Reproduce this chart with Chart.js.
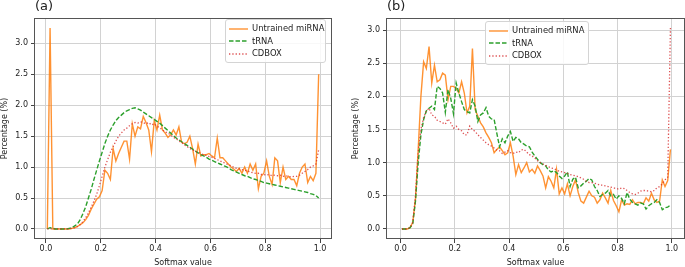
<!DOCTYPE html>
<html>
<head>
<meta charset="utf-8">
<script src="https://cdn.jsdelivr.net/npm/chart.js@4.4.1/dist/chart.umd.min.js"></script>
<style>
body { margin: 0; width: 685px; height: 267px; background: #fff; overflow: hidden; font-family: "DejaVu Sans", sans-serif; }
.panel { position: absolute; top: 0; height: 267px; }
.tag { position: absolute; top: -2px; font-size: 13px; line-height: 16px; color: #222; }
.legend { position: absolute; background: rgba(255,255,255,0.85); border: 1px solid #d4d4d4; border-radius: 3px; font-size: 8.4px; color: #222; padding: 2px 0; }
.legend div { height: 12.5px; line-height: 12.5px; white-space: nowrap; }
.legend svg { vertical-align: middle; margin: 0 4px 0 3px; }
</style>
</head>
<body>
<div class="panel" style="left:0;width:342px"><canvas id="chartA" width="342" height="267"></canvas></div>
<div class="panel" style="left:342px;width:343px"><canvas id="chartB" width="343" height="267"></canvas></div>
<div class="tag" style="left:35px">(a)</div>
<div class="tag" style="left:387px">(b)</div>
<div class="legend" id="legendA" style="left:225px;top:19px;width:99px"></div>
<div class="legend" id="legendB" style="left:485px;top:21px;width:102px"></div>
<script>
// bin centres of the softmax histogram
var bins = [0.005,0.015,0.025,0.035,0.045,0.055,0.065,0.075,0.085,0.095,
    0.105,0.115,0.125,0.135,0.145,0.155,0.165,0.175,0.185,0.195,
    0.205,0.215,0.225,0.235,0.245,0.255,0.265,0.275,0.285,0.295,
    0.305,0.315,0.325,0.335,0.345,0.355,0.365,0.375,0.385,0.395,
    0.405,0.415,0.425,0.435,0.445,0.455,0.465,0.475,0.485,0.495,
    0.505,0.515,0.525,0.535,0.545,0.555,0.565,0.575,0.585,0.595,
    0.605,0.615,0.625,0.635,0.645,0.655,0.665,0.675,0.685,0.695,
    0.705,0.715,0.725,0.735,0.745,0.755,0.765,0.775,0.785,0.795,
    0.805,0.815,0.825,0.835,0.845,0.855,0.865,0.875,0.885,0.895,
    0.905,0.915,0.925,0.935,0.945,0.955,0.965,0.975,0.985,0.995];

var seriesNames = ["Untrained miRNA", "tRNA", "CDBOX"];

// panel (a)
var miRNA_a = [0,3.25,0,0,0,0,0,0,0,0.01,
    0.02,0.04,0.07,0.1,0.15,0.22,0.32,0.4,0.48,0.52,
    0.62,0.95,0.9,0.8,1.3,1.1,1.22,1.32,1.42,1.42,
    1.13,1.7,1.5,1.65,1.62,1.82,1.72,1.6,1.25,1.75,
    1.6,1.84,1.6,1.55,1.48,1.52,1.6,1.52,1.65,1.4,
    1.38,1.4,1.5,1.3,1.05,1.37,1.18,1.2,1.2,1.22,
    1.18,1.15,1.47,1.15,1.15,1.1,1.05,1.0,0.97,0.93,
    0.98,0.9,1.0,0.9,1.05,0.95,1.05,0.65,0.85,0.9,
    1.1,0.85,0.72,1.15,1.1,0.75,1.0,0.8,0.85,0.8,
    0.8,0.7,0.9,1.0,1.05,0.75,0.85,0.78,0.9,2.5];
var tRNA_a = [0,0.02,0.01,0,0,0,0,0,0.01,0.02,
    0.05,0.08,0.15,0.25,0.36,0.5,0.64,0.8,0.95,1.1,
    1.24,1.38,1.5,1.6,1.68,1.75,1.8,1.84,1.88,1.91,
    1.93,1.95,1.96,1.94,1.92,1.89,1.86,1.83,1.8,1.77,
    1.74,1.71,1.67,1.63,1.59,1.55,1.51,1.47,1.44,1.41,
    1.38,1.35,1.32,1.29,1.26,1.23,1.2,1.18,1.16,1.13,
    1.11,1.09,1.07,1.05,1.03,1.01,0.99,0.96,0.94,0.92,
    0.9,0.88,0.86,0.85,0.83,0.81,0.8,0.78,0.77,0.75,
    0.74,0.73,0.72,0.71,0.7,0.69,0.68,0.67,0.66,0.65,
    0.64,0.63,0.62,0.61,0.6,0.59,0.57,0.56,0.54,0.5];
var cdbox_a = [0,0,0,0,0,0,0,0,0,0.01,
    0.02,0.04,0.07,0.12,0.18,0.26,0.35,0.45,0.56,0.7,
    0.85,1.0,1.12,1.24,1.33,1.42,1.5,1.55,1.6,1.63,
    1.67,1.7,1.72,1.71,1.73,1.72,1.7,1.72,1.68,1.7,
    1.66,1.64,1.6,1.57,1.55,1.52,1.48,1.46,1.42,1.4,
    1.36,1.33,1.3,1.28,1.25,1.24,1.22,1.2,1.19,1.17,
    1.16,1.14,1.12,1.1,1.08,1.06,1.04,1.02,1.0,0.98,
    0.97,0.96,0.95,0.94,0.92,0.91,0.9,0.9,0.88,0.88,
    0.87,0.88,0.86,0.87,0.86,0.87,0.85,0.86,0.85,0.84,
    0.85,0.85,0.87,0.9,0.93,0.96,1.0,1.02,1.05,1.28];

// panel (b)
var miRNA_b = [0,0,0,0.02,0.1,0.45,1.2,2.0,2.52,2.42,
    2.75,2.2,2.47,2.22,2.25,2.35,2.32,1.95,2.15,2.15,
    2.12,2.05,2.22,2.05,1.75,1.85,2.72,1.8,1.7,1.6,
    1.54,1.45,1.38,1.3,1.15,1.2,1.24,1.18,1.12,1.15,
    1.3,1.1,0.82,0.97,0.85,0.92,1.0,0.86,0.9,0.84,
    0.95,0.88,0.8,0.62,0.79,0.72,0.62,0.9,0.53,0.62,
    0.53,0.68,0.5,0.64,0.74,0.55,0.42,0.39,0.48,0.57,
    0.5,0.48,0.39,0.44,0.54,0.47,0.39,0.58,0.43,0.35,
    0.26,0.44,0.36,0.38,0.37,0.44,0.38,0.4,0.4,0.38,
    0.47,0.42,0.54,0.44,0.4,0.42,0.74,0.64,0.73,1.2];
var tRNA_b = [0,0,0,0.02,0.08,0.42,1.0,1.42,1.65,1.78,
    1.82,1.85,1.8,2.15,2.12,2.05,1.76,2.1,1.97,1.74,
    2.2,2.05,1.92,1.8,1.77,1.75,1.95,1.85,1.62,1.72,
    1.75,1.83,1.7,1.66,1.65,1.44,1.24,1.36,1.3,1.4,
    1.47,1.32,1.38,1.36,1.3,1.28,1.25,1.24,1.16,1.1,
    1.05,1.0,0.97,0.95,0.89,0.86,0.88,0.85,0.8,0.76,
    0.8,0.86,0.64,0.75,0.78,0.62,0.65,0.69,0.72,0.76,
    0.74,0.64,0.58,0.49,0.52,0.54,0.58,0.5,0.52,0.45,
    0.5,0.46,0.38,0.55,0.45,0.4,0.38,0.36,0.39,0.38,
    0.3,0.35,0.38,0.4,0.44,0.4,0.29,0.32,0.33,0.36];
var cdbox_b = [0,0,0,0.02,0.1,0.5,1.15,1.5,1.68,1.78,
    1.82,1.72,1.7,1.64,1.62,1.6,1.58,1.66,1.6,1.52,
    1.55,1.5,1.48,1.42,1.42,1.55,1.5,1.47,1.42,1.38,
    1.34,1.3,1.27,1.25,1.22,1.19,1.18,1.14,1.16,1.18,
    1.15,1.14,1.16,1.15,1.19,1.2,1.16,1.12,1.1,1.07,
    1.03,1.0,0.98,0.96,0.94,0.92,0.91,0.89,0.87,0.86,
    0.85,0.84,0.82,0.81,0.8,0.79,0.77,0.75,0.72,0.7,
    0.7,0.69,0.68,0.66,0.66,0.65,0.64,0.63,0.62,0.61,
    0.6,0.62,0.61,0.58,0.55,0.53,0.52,0.54,0.57,0.58,
    0.58,0.57,0.56,0.58,0.62,0.64,0.68,0.74,0.78,3.03];

var xTicks = [0, 0.2, 0.4, 0.6, 0.8, 1.0];
var yTicks = [0, 0.5, 1.0, 1.5, 2.0, 2.5, 3.0];

var styles = [
    {color: "rgba(255,127,14,0.85)", width: 1.4, dash: []},
    {color: "#2ca02c", width: 1.4, dash: [4.5, 2]},
    {color: "rgba(214,39,40,0.8)", width: 1.3, dash: [1.3, 2]}
];

var tickFont = {family: "DejaVu Sans", size: 8};
var textColor = "#222";

var framePlugin = {
    id: "frame",
    afterDraw: function (chart) {
        var a = chart.chartArea, ctx = chart.ctx;
        ctx.save();
        ctx.strokeStyle = "#555";
        ctx.lineWidth = 1;
        ctx.strokeRect(Math.round(a.left) - 0.5, Math.round(a.top) + 0.5,
            Math.round(a.right - a.left) + 1, Math.round(a.bottom - a.top) - 1);
        ctx.restore();
    }
};

function makeDatasets(values) {
    return values.map(function (vals, k) {
        return {
            label: seriesNames[k],
            data: bins.map(function (x, i) { return {x: x, y: vals[i]}; }),
            borderColor: styles[k].color,
            borderWidth: styles[k].width,
            borderDash: styles[k].dash,
            pointRadius: 0,
            fill: false,
            tension: 0,
            order: 2 - k
        };
    });
}

function makeChart(id, values, cfg) {
    return new Chart(id, {
        type: "line",
        data: {datasets: makeDatasets(values)},
        options: {
            responsive: false,
            animation: false,
            layout: {padding: {top: 18, right: cfg.padRight, left: 0, bottom: 0}},
            plugins: {legend: {display: false}, tooltip: {enabled: false}},
            scales: {
                x: {
                    type: "linear",
                    min: cfg.xMin, max: cfg.xMax,
                    afterFit: function (s) { s.height = 28; },
                    afterBuildTicks: function (s) { s.ticks = xTicks.map(function (v) { return {value: v}; }); },
                    ticks: {font: tickFont, color: textColor, padding: 1, maxRotation: 0, autoSkip: false,
                        callback: function (v) { return v.toFixed(1); }},
                    grid: {color: "#d2d2d2", tickColor: "#444", tickLength: 4},
                    border: {display: false},
                    title: {display: true, text: "Softmax value", color: textColor,
                        font: {family: "DejaVu Sans", size: 8, lineHeight: 1}, padding: {top: 0, bottom: 0}}
                },
                y: {
                    min: cfg.yMin, max: cfg.yMax,
                    afterFit: function (s) { s.width = cfg.yWidth; },
                    afterBuildTicks: function (s) { s.ticks = yTicks.map(function (v) { return {value: v}; }); },
                    ticks: {font: tickFont, color: textColor, padding: 3,
                        callback: function (v) { return v.toFixed(1); }},
                    grid: {color: "#d2d2d2", tickColor: "#444", tickLength: 4},
                    border: {display: false},
                    title: {display: true, text: "Percentage (%)", color: textColor,
                        font: {family: "DejaVu Sans", size: 8, lineHeight: 1.2}, padding: {top: cfg.titlePad, bottom: 0}}
                }
            }
        },
        plugins: [framePlugin]
    });
}

function makeLegend(id) {
    var box = document.getElementById(id);
    seriesNames.forEach(function (name, k) {
        var row = document.createElement("div");
        var st = styles[k];
        row.innerHTML = '<svg width="19" height="6"><line x1="0" y1="3" x2="19" y2="3" stroke="' + st.color +
            '" stroke-width="' + st.width + '" stroke-dasharray="' + (st.dash.length ? st.dash.join(",") : "none") +
            '"/></svg>' + name;
        box.appendChild(row);
    });
}

makeChart("chartA", [miRNA_a, tRNA_a, cdbox_a],
    {xMin: -0.04, xMax: 1.04, yMin: -0.1625, yMax: 3.41, yWidth: 35, titlePad: 0, padRight: 11});
makeChart("chartB", [miRNA_b, tRNA_b, cdbox_b],
    {xMin: -0.05, xMax: 1.045, yMin: -0.151, yMax: 3.181, yWidth: 45, titlePad: 9, padRight: 1});
makeLegend("legendA");
makeLegend("legendB");
</script>
</body>
</html>
